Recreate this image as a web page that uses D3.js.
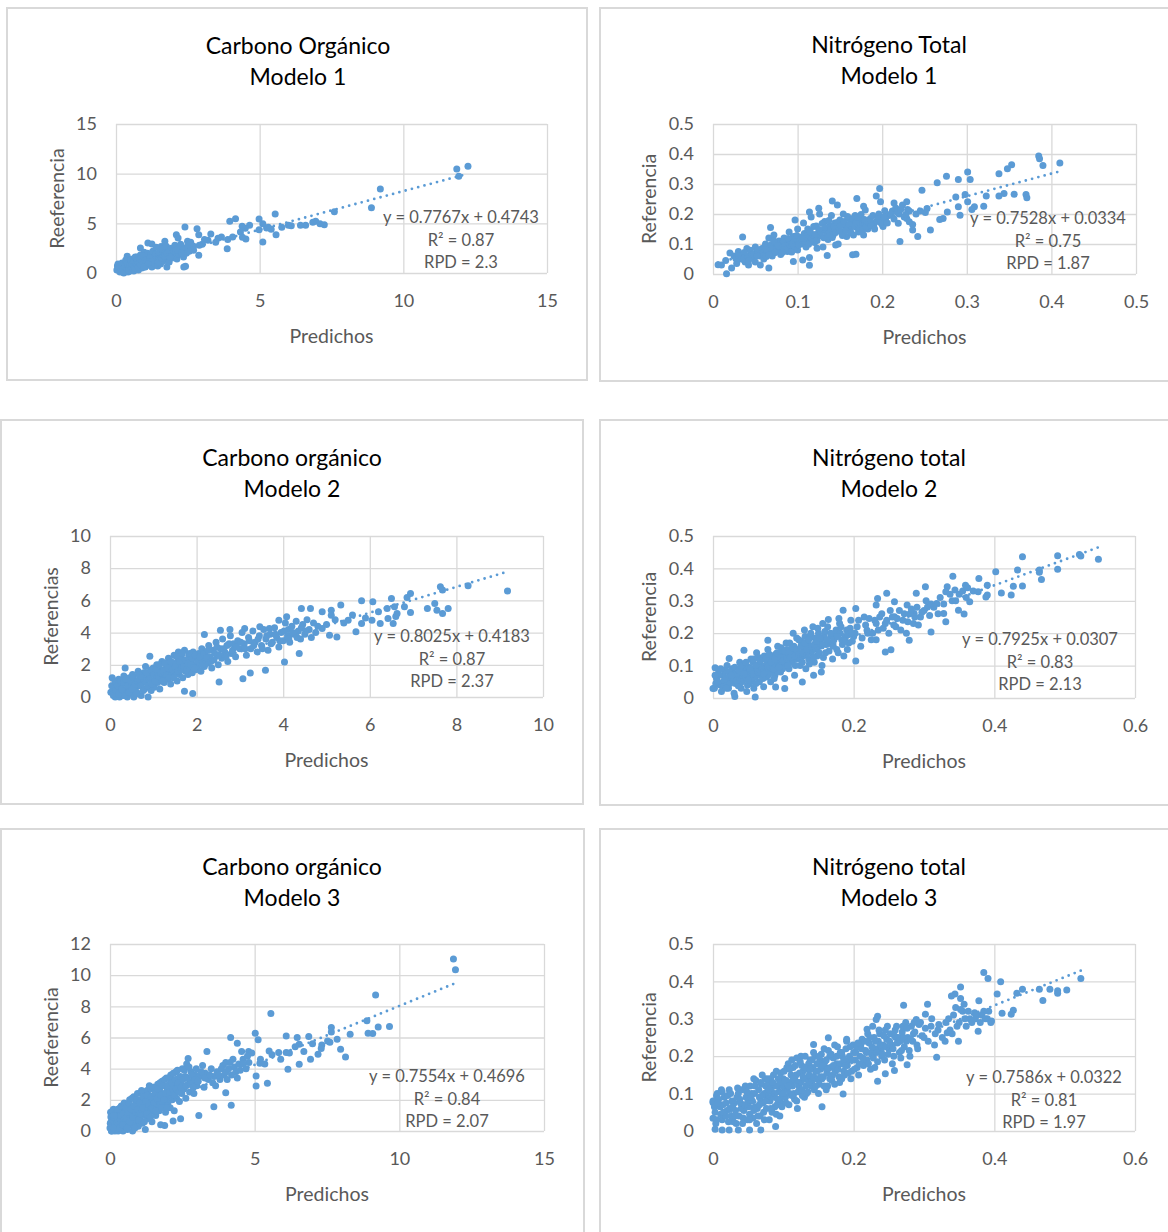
<!DOCTYPE html>
<html>
<head>
<meta charset="utf-8">
<script src="https://cdnjs.cloudflare.com/ajax/libs/d3/7.8.5/d3.min.js"></script>
<style>
  body { margin: 0; background: #fff; }
  svg { display: block; font-family: Lato, "Open Sans", sans-serif; }
</style>
</head>
<body>
<svg id="chart" width="1168" height="1232"></svg>
<script>
///////////////////////////////////////////////////
// Data
///////////////////////////////////////////////////

//  [predichos, referencia]
let co1Points = [
  [12.25,10.74],[11.86,10.47],[11.93,9.73],[9.2,8.46],[8.89,6.58],[7.6,6.17],[7.25,4.85],[7.1,4.95],[6.95,5.2],[6.85,5.1],
  [6.6,4.8],[6.42,4.8],[6.1,4.75],[6.0,4.8],[5.77,4.6],[5.54,5.94],[5.57,3.86],[5.4,4.4],[5.3,4.6],[5.24,4.53],
  [5.11,4.97],[5.11,3.12],[4.98,5.44],[4.98,4.36],[4.65,4.8],[4.5,4.5],[4.39,4.7],[4.33,4.13],[4.52,3.42],[4.4,3.6],
  [4.16,5.47],[3.96,5.2],[4.06,3.62],[3.89,3.36],[3.87,2.45],[3.67,3.62],[3.55,3.5],[3.47,3.09],[3.3,3.93],[3.2,3.3],
  [3.08,3.36],[3.0,2.9],[2.88,3.86],[2.82,4.46],[2.9,2.8],[2.4,4.63],[2.88,1.78],[2.42,0.67],[2.36,0.6],[2.49,3.19],
  [2.6,2.5],[2.7,2.3],[2.1,3.86],[2.16,3.52],[2.23,2.52],[1.97,2.01],[1.77,0.6],[1.7,3.19],[1.57,2.68],[1.25,2.92],
  [1.11,3.02],[0.85,2.52],[0.66,1.51],[0.39,1.68],
  [0.05,0.7],[0.1,0.4],[0.12,0.8],[0.15,0.3],[0.2,0.6],[0.22,0.9],[0.25,0.2],[0.3,0.5],[0.32,1.0],[0.35,0.3],
  [0.4,0.8],[0.42,0.1],[0.45,1.2],[0.48,0.5],[0.5,0.2],[0.08,0.55],[0.18,0.15],[0.28,0.75],
  [0.52,1.0],[0.55,0.4],[0.58,1.4],[0.6,0.7],[0.62,0.2],[0.65,1.1],[0.7,0.5],[0.72,1.6],[0.75,0.9],[0.78,0.3],
  [0.8,1.3],[0.82,0.7],[0.85,1.8],[0.88,1.1],[0.9,0.5],[0.92,1.5],[0.95,0.9],[0.98,2.1],
  [1.0,1.2],[1.02,0.6],[1.05,1.6],[1.08,1.0],[1.1,2.0],[1.12,1.4],[1.15,0.8],[1.2,1.8],[1.22,1.2],[1.25,0.6],
  [1.28,2.2],[1.3,1.5],[1.35,1.0],[1.38,1.9],[1.4,2.6],[1.42,1.3],[1.45,0.7],[1.48,1.7],
  [1.5,2.1],[1.52,1.4],[1.55,0.9],[1.6,1.8],[1.62,2.4],[1.65,1.2],[1.7,2.0],[1.72,1.5],[1.75,2.7],[1.8,1.7],
  [1.82,2.2],[1.85,1.1],[1.9,1.9],[1.92,2.5],[1.95,1.5],[2.0,2.2],
  [2.02,1.7],[2.05,2.8],[2.1,2.0],[2.12,1.4],[2.15,2.4],[2.2,1.9],[2.25,2.9],[2.3,2.2],[2.35,1.6],[2.4,2.5],
  [2.45,2.0],[2.5,2.8],[2.55,2.2],[2.6,3.1],[2.7,2.7],
  [0.03,0.3],[0.07,0.9],[0.11,0.6],[0.14,0.1],[0.17,0.5],[0.21,1.0],[0.24,0.4],[0.27,0.0],[0.31,0.7],[0.34,1.3],
  [0.37,0.5],[0.41,0.9],[0.44,0.3],[0.47,0.8],[0.51,1.3],[0.54,0.6],[0.57,0.9],[0.61,1.2],[0.64,0.5],[0.67,1.6],
  [0.71,0.9],[0.74,1.3],[0.77,0.6],[0.81,1.0],[0.84,1.4],[0.87,0.8],[0.91,1.2],[0.94,1.7],[0.97,0.6],[1.03,1.3],
  [1.13,1.0],[1.18,1.5],[1.33,1.3],[1.47,1.1],[1.58,1.5],[1.68,1.7],[1.78,2.0],[1.88,1.6],[2.08,2.3],[2.28,2.0]
];

let nt1Points = [
  [0.385,0.393],[0.386,0.384],[0.39,0.362],[0.41,0.37],[0.353,0.364],[0.348,0.351],[0.338,0.334],[0.301,0.34],[0.304,0.315],[0.29,0.315],
  [0.276,0.326],[0.265,0.304],[0.247,0.279],[0.37,0.265],[0.371,0.254],[0.356,0.266],[0.344,0.268],[0.338,0.26],[0.323,0.26],[0.32,0.226],
  [0.309,0.224],[0.306,0.215],[0.301,0.241],[0.298,0.265],[0.287,0.257],[0.29,0.224],[0.292,0.196],[0.277,0.207],[0.272,0.185],[0.268,0.182],
  [0.257,0.147],[0.253,0.218],[0.251,0.205],[0.242,0.125],[0.236,0.147],[0.229,0.241],[0.23,0.215],[0.229,0.185],[0.232,0.174],[0.221,0.108],
  [0.219,0.169],[0.214,0.237],[0.197,0.285],[0.193,0.26],[0.198,0.241],[0.203,0.211],[0.201,0.158],[0.188,0.169],[0.18,0.213],[0.17,0.252],
  [0.178,0.226],[0.169,0.066],[0.165,0.064],[0.147,0.23],[0.141,0.243],[0.125,0.219],[0.114,0.207],[0.135,0.062],[0.114,0.029],[0.106,0.047],
  [0.095,0.042],[0.114,0.055],[0.097,0.18],[0.066,0.02],[0.016,0.001],[0.006,0.031],[0.035,0.123],[0.068,0.155],[0.145,0.097],[0.123,0.086],
  [0.01,0.03],[0.015,0.045],[0.02,0.07],[0.022,0.02],[0.025,0.06],[0.028,0.035],[0.03,0.075],[0.032,0.05],[0.035,0.065],[0.038,0.04],
  [0.04,0.085],[0.042,0.03],[0.045,0.07],[0.048,0.055],[0.05,0.09],[0.05,0.04],
  [0.052,0.075],[0.055,0.06],[0.056,0.03],[0.058,0.085],[0.06,0.05],[0.062,0.1],[0.064,0.07],[0.066,0.12],[0.068,0.085],[0.07,0.06],
  [0.072,0.13],[0.074,0.095],[0.075,0.075],[0.078,0.11],[0.08,0.065],[0.082,0.09],[0.084,0.12],[0.086,0.1],[0.088,0.075],[0.09,0.14],
  [0.092,0.11],[0.094,0.085],[0.095,0.125],[0.098,0.1],[0.1,0.15],[0.1,0.08],
  [0.102,0.12],[0.105,0.1],[0.107,0.17],[0.108,0.135],[0.11,0.09],[0.112,0.15],[0.114,0.115],[0.116,0.19],[0.118,0.13],[0.12,0.105],
  [0.122,0.16],[0.124,0.125],[0.126,0.2],[0.128,0.145],[0.13,0.09],[0.132,0.175],[0.134,0.14],[0.136,0.115],[0.138,0.16],[0.14,0.195],
  [0.142,0.13],[0.144,0.17],[0.146,0.15],[0.148,0.1],[0.15,0.18],
  [0.152,0.14],[0.154,0.2],[0.156,0.16],[0.158,0.125],[0.16,0.185],[0.162,0.15],[0.164,0.17],[0.166,0.13],[0.168,0.195],[0.17,0.155],
  [0.172,0.14],[0.174,0.18],[0.176,0.165],[0.178,0.13],[0.18,0.17],[0.183,0.15],[0.186,0.185],[0.19,0.16],[0.193,0.175],[0.196,0.2],
  [0.2,0.165],[0.204,0.18],[0.208,0.195],
  [0.212,0.21],[0.216,0.22],[0.22,0.2],[0.224,0.23],[0.226,0.19],[0.232,0.21],[0.236,0.165],[0.24,0.2],[0.245,0.21],
  [0.027,0.052],[0.031,0.062],[0.036,0.048],[0.041,0.058],[0.044,0.079],[0.047,0.066],[0.053,0.081],[0.057,0.068],[0.059,0.072],[0.061,0.089],
  [0.063,0.058],[0.067,0.077],[0.069,0.098],[0.071,0.085],[0.073,0.071],[0.076,0.102],[0.079,0.088],[0.081,0.079],[0.083,0.105],[0.085,0.093],
  [0.087,0.083],[0.089,0.118],[0.091,0.097],[0.093,0.073],[0.096,0.108],[0.097,0.092],[0.099,0.128],[0.101,0.097],[0.103,0.113],[0.106,0.125],
  [0.109,0.108],[0.111,0.128],[0.113,0.099],[0.115,0.141],[0.117,0.118],[0.119,0.158],[0.121,0.132],[0.123,0.112],[0.125,0.148],[0.127,0.128],
  [0.129,0.168],[0.131,0.121],[0.133,0.155],[0.135,0.133],[0.137,0.178],[0.139,0.148],[0.141,0.122],[0.143,0.158],[0.145,0.138],[0.147,0.172],
  [0.149,0.145],[0.151,0.162],[0.153,0.128],[0.155,0.175],[0.157,0.145],[0.159,0.192],[0.161,0.165],[0.163,0.138],[0.165,0.185],[0.167,0.158],
  [0.169,0.172],[0.171,0.188],[0.173,0.152],[0.175,0.198],[0.177,0.148],[0.179,0.182],[0.181,0.158],[0.184,0.172],[0.187,0.162],[0.189,0.195],
  [0.191,0.15],[0.195,0.185],[0.198,0.172],[0.202,0.19],[0.206,0.17],[0.21,0.2],[0.214,0.183],[0.218,0.205],[0.222,0.215],[0.228,0.198],
  [0.082,0.072],[0.072,0.11],[0.062,0.082],[0.052,0.062],[0.042,0.044],[0.037,0.072],[0.066,0.064],[0.077,0.094],[0.094,0.1],[0.107,0.118]
];

let co2Points = [
  [9.18,6.58],[8.27,6.91],[7.63,6.85],[7.68,6.64],[7.81,5.5],[7.68,5.19],[7.55,5.39],[7.5,5.81],[7.33,5.5],[6.94,5.25],
  [6.94,6.43],[6.86,6.18],[6.63,5.19],[6.57,5.6],[6.5,6.12],[6.54,4.56],[6.42,4.88],[6.24,4.56],[6.07,5.91],[6.05,4.77],
  [5.81,5.98],[5.81,4.56],[5.68,4.05],[5.5,4.77],[5.33,5.71],[5.24,3.73],[5.11,5.39],[5.11,5.08],[5.07,3.84],[4.9,5.29],
  [4.9,4.25],[4.63,5.5],[4.42,5.5],[4.37,2.7],[4.03,2.18],[3.59,1.66],[3.07,1.14],[3.24,1.49],[2.52,0.93],[1.91,0.21],
  [1.72,0.35],[2.18,3.88],[2.55,4.15],[2.77,4.19],[3.11,4.25],[3.46,4.36],[3.68,4.25],[3.9,4.77],[4.08,4.98],[0.92,2.53],
  [0.35,1.8],
  [0.02,0.3],[0.05,1.2],[0.08,0.1],[0.1,0.6],[0.12,0.0],[0.15,0.9],[0.18,0.3],[0.2,1.1],[0.22,0.0],[0.25,0.5],
  [0.28,0.8],[0.3,0.1],[0.32,1.3],[0.35,0.4],[0.38,0.9],[0.4,0.0],[0.42,0.6],[0.45,1.2],[0.48,0.2],[0.5,0.8],
  [0.52,1.4],[0.55,0.0],[0.57,0.5],[0.6,1.0],[0.62,0.3],[0.65,1.6],[0.68,0.7],[0.7,1.2],[0.72,0.1],[0.75,0.9],
  [0.78,1.5],[0.8,0.5],[0.82,1.9],[0.85,1.1],[0.88,0.0],[0.9,0.7],[0.92,1.4],[0.95,0.4],[0.98,1.0],[1.0,1.8],
  [1.02,0.6],[1.05,1.3],[1.08,2.0],[1.1,0.9],[1.12,1.6],[1.15,0.5],[1.18,1.2],[1.2,2.2],[1.22,1.7],[1.25,0.9],
  [1.28,1.4],[1.3,2.0],[1.32,1.1],[1.35,2.4],[1.38,1.6],[1.4,0.8],[1.42,1.9],[1.45,1.3],[1.48,2.6],[1.5,1.6],
  [1.52,2.1],[1.55,1.0],[1.58,2.8],[1.6,1.4],[1.62,1.9],[1.65,2.4],[1.68,1.2],[1.7,2.0],[1.72,2.9],[1.75,1.6],
  [1.78,2.2],[1.8,1.4],[1.82,2.6],[1.85,1.8],[1.88,2.3],[1.9,1.5],[1.92,2.8],[1.95,2.0],[1.98,1.7],[2.0,2.4],
  [2.02,1.9],[2.05,2.7],[2.08,2.2],[2.1,1.6],[2.12,3.0],[2.15,2.4],[2.18,1.9],[2.2,2.8],[2.25,2.1],[2.28,3.2],
  [2.3,2.5],[2.35,1.8],[2.38,2.9],[2.4,2.3],[2.45,3.4],[2.48,2.6],[2.5,2.0],
  [2.55,3.0],[2.58,2.4],[2.6,3.6],[2.65,2.8],[2.7,3.2],[2.72,2.2],[2.78,3.8],[2.8,2.7],[2.85,3.3],[2.9,2.5],
  [2.95,3.5],[3.0,3.0],
  [3.05,4.0],[3.1,3.3],[3.15,2.6],[3.2,3.7],[3.25,3.0],[3.3,4.1],[3.35,3.4],[3.4,2.8],[3.45,3.8],[3.5,3.2],
  [3.55,4.2],[3.6,3.6],[3.65,2.9],[3.7,3.9],[3.75,3.4],[3.8,4.3],[3.85,3.7],[3.9,3.1],[3.95,4.0],[4.0,3.5],
  [4.05,4.6],[4.1,3.8],[4.12,4.2],[4.15,3.4],[4.2,4.4],[4.25,3.9],[4.3,4.7],[4.35,4.1],[4.4,3.6],[4.45,4.5],
  [4.5,3.9],[4.55,4.8],[4.6,4.2],[4.65,3.7],[4.7,4.6],[4.75,4.0],[4.8,4.4],
  [5.0,4.5],[5.2,4.8],[5.4,4.6],[5.6,5.1],[5.9,4.9],[6.2,5.3],[6.4,5.5],[6.6,5.0],[6.8,5.6],
  [0.04,0.7],[0.07,0.2],[0.11,1.0],[0.14,0.4],[0.17,0.7],[0.21,0.2],[0.24,1.0],[0.27,0.5],[0.31,0.9],[0.34,0.1],
  [0.37,1.1],[0.41,0.7],[0.44,0.3],[0.47,1.0],[0.51,0.5],[0.54,1.2],[0.58,0.8],[0.61,0.2],[0.64,1.0],[0.67,1.4],
  [0.71,0.7],[0.74,1.2],[0.77,0.4],[0.81,1.0],[0.84,1.5],[0.87,0.7],[0.91,1.1],[0.94,1.7],[0.97,0.8],[1.01,1.4],
  [1.04,1.0],[1.07,1.7],[1.11,1.3],[1.14,2.0],[1.17,1.5],[1.21,1.0],[1.24,1.6],[1.27,2.1],[1.31,1.4],[1.34,1.8],
  [1.37,1.2],[1.41,2.2],[1.44,1.7],[1.47,1.2],[1.51,1.9],[1.54,2.5],[1.57,1.6],[1.61,2.2],[1.64,1.7],[1.67,2.7],
  [1.71,1.9],[1.74,2.3],[1.77,1.7],[1.81,2.1],[1.84,2.7],[1.87,2.0],[1.91,2.4],[1.94,1.8],[1.97,2.6],[2.03,2.2],
  [2.07,2.5],[2.13,2.0],[2.17,2.7],[2.23,2.4],[2.27,2.9],[2.33,2.2],[2.42,2.7],[2.47,3.1],[2.53,2.6],[2.62,3.0],
  [2.68,2.5],[2.75,3.3],[2.83,2.9],[2.92,3.1],[3.02,3.4],[3.12,3.0],[3.22,3.5],[3.32,3.2],[3.42,3.6],[3.52,3.0],
  [3.62,3.8],[3.72,3.3],[3.82,3.9],[3.92,3.5],[4.02,4.1],[4.13,3.6],[4.22,4.0],[4.32,3.7],[4.42,4.3],[4.52,4.1]
];

let nt2Points = [
  [0.548,0.428],[0.523,0.438],[0.521,0.443],[0.49,0.439],[0.49,0.397],[0.467,0.366],[0.464,0.395],[0.464,0.388],[0.44,0.436],[0.433,0.395],
  [0.44,0.346],[0.427,0.345],[0.424,0.318],[0.41,0.324],[0.402,0.39],[0.39,0.318],[0.388,0.312],[0.39,0.348],[0.378,0.369],[0.377,0.328],
  [0.365,0.297],[0.357,0.259],[0.349,0.271],[0.359,0.348],[0.341,0.376],[0.344,0.333],[0.333,0.343],[0.331,0.328],[0.331,0.235],[0.328,0.261],
  [0.318,0.292],[0.31,0.204],[0.302,0.343],[0.305,0.281],[0.289,0.323],[0.286,0.261],[0.279,0.178],[0.276,0.287],[0.258,0.251],[0.258,0.297],
  [0.247,0.323],[0.245,0.142],[0.253,0.149],[0.234,0.307],[0.232,0.287],[0.232,0.18],[0.219,0.209],[0.203,0.276],[0.203,0.114],[0.185,0.271],
  [0.179,0.245],[0.164,0.242],[0.156,0.23],[0.154,0.08],[0.143,0.07],[0.127,0.049],[0.102,0.029],[0.089,0.034],[0.078,0.178],[0.044,0.147],
  [0.023,0.122],[0.003,0.093],[0.0,0.029],[0.06,0.003],[0.031,0.005],
  [0.002,0.03],[0.005,0.06],[0.008,0.085],[0.01,0.04],[0.012,0.02],[0.015,0.07],[0.018,0.05],[0.02,0.1],[0.022,0.03],[0.025,0.06],
  [0.028,0.08],[0.03,0.015],[0.032,0.045],[0.035,0.07],[0.038,0.11],[0.04,0.03],[0.042,0.06],[0.045,0.09],[0.048,0.02],[0.05,0.075],
  [0.052,0.045],[0.054,0.12],[0.056,0.09],[0.058,0.03],[0.06,0.065],[0.062,0.14],[0.064,0.1],[0.066,0.05],[0.068,0.08],[0.07,0.12],
  [0.072,0.035],[0.074,0.095],[0.076,0.065],[0.078,0.15],[0.08,0.11],[0.082,0.05],[0.084,0.085],[0.086,0.13],[0.088,0.07],[0.09,0.1],
  [0.092,0.16],[0.094,0.12],[0.096,0.08],[0.098,0.14],[0.1,0.105],
  [0.102,0.06],[0.104,0.17],[0.106,0.13],[0.108,0.09],[0.11,0.15],[0.112,0.11],[0.114,0.2],[0.116,0.07],[0.118,0.14],[0.12,0.12],
  [0.122,0.18],[0.124,0.1],[0.126,0.16],[0.128,0.13],[0.13,0.21],[0.132,0.09],[0.134,0.15],[0.136,0.12],[0.138,0.19],[0.14,0.14],
  [0.142,0.22],[0.144,0.11],[0.146,0.17],[0.148,0.13],[0.15,0.2],
  [0.152,0.16],[0.155,0.1],[0.158,0.19],[0.16,0.14],[0.163,0.22],[0.166,0.17],[0.17,0.12],[0.173,0.2],[0.176,0.15],[0.18,0.23],
  [0.183,0.18],[0.186,0.13],[0.19,0.21],[0.193,0.17],[0.196,0.24],[0.2,0.19],
  [0.205,0.22],[0.21,0.16],[0.215,0.25],[0.22,0.2],[0.225,0.18],[0.23,0.24],[0.235,0.21],[0.24,0.26],[0.245,0.23],[0.25,0.2],
  [0.255,0.25],[0.26,0.22],[0.265,0.27],[0.27,0.24],[0.275,0.2],[0.28,0.26],[0.285,0.23],[0.29,0.28],[0.295,0.25],[0.3,0.27],
  [0.31,0.29],[0.32,0.26],[0.34,0.3],[0.35,0.32],[0.36,0.31],
  [0.004,0.045],[0.009,0.07],[0.014,0.035],[0.017,0.085],[0.021,0.062],[0.024,0.045],[0.027,0.09],[0.029,0.055],[0.033,0.072],[0.036,0.038],
  [0.039,0.085],[0.041,0.05],[0.043,0.105],[0.046,0.065],[0.049,0.04],[0.051,0.095],[0.053,0.07],[0.055,0.055],[0.057,0.11],[0.059,0.08],
  [0.061,0.045],[0.063,0.092],[0.065,0.125],[0.067,0.07],[0.069,0.1],[0.071,0.06],[0.073,0.13],[0.075,0.085],[0.077,0.105],[0.079,0.072],
  [0.081,0.125],[0.083,0.095],[0.085,0.11],[0.087,0.06],[0.089,0.135],[0.091,0.085],[0.093,0.115],[0.095,0.1],[0.097,0.155],[0.099,0.09],
  [0.101,0.13],[0.103,0.115],[0.105,0.15],[0.107,0.1],[0.109,0.17],[0.111,0.135],[0.113,0.12],[0.115,0.16],[0.117,0.1],[0.119,0.185],
  [0.121,0.14],[0.123,0.125],[0.125,0.175],[0.127,0.11],[0.129,0.15],[0.131,0.19],[0.133,0.135],[0.135,0.165],[0.137,0.105],[0.139,0.2],
  [0.141,0.155],[0.143,0.125],[0.145,0.185],[0.147,0.15],[0.149,0.215],[0.151,0.14],[0.153,0.18],[0.157,0.125],[0.159,0.205],[0.161,0.165],
  [0.165,0.145],[0.168,0.19],[0.171,0.16],[0.175,0.21],[0.178,0.14],[0.181,0.2],[0.184,0.165],[0.188,0.19],[0.191,0.15],[0.195,0.215],
  [0.198,0.175],
  [0.202,0.2],[0.207,0.24],[0.212,0.185],[0.217,0.225],[0.222,0.245],[0.227,0.2],[0.232,0.23],[0.237,0.25],[0.242,0.215],[0.247,0.24],
  [0.252,0.27],[0.257,0.225],[0.262,0.245],[0.267,0.21],[0.272,0.26],[0.277,0.235],[0.282,0.275],[0.287,0.25],[0.292,0.225],[0.297,0.265],
  [0.303,0.3],[0.308,0.255],[0.314,0.28],[0.323,0.31],[0.328,0.29],[0.337,0.32],[0.345,0.3],[0.355,0.33],[0.362,0.34],[0.37,0.33],
  [0.003,0.07],[0.007,0.05],[0.011,0.09],[0.016,0.055],[0.019,0.03],[0.023,0.08],[0.026,0.07],[0.031,0.095],[0.034,0.055],[0.037,0.085],
  [0.04,0.1],[0.044,0.075],[0.047,0.11],[0.05,0.055],[0.053,0.09],[0.056,0.075],[0.058,0.12],[0.061,0.1],[0.064,0.08],[0.067,0.115],
  [0.07,0.09],[0.072,0.075],[0.075,0.12],[0.078,0.095],[0.08,0.135],[0.083,0.11],[0.086,0.09],[0.088,0.12],[0.091,0.14],[0.094,0.095],
  [0.096,0.125],[0.099,0.115],[0.102,0.145],[0.105,0.12],[0.108,0.14],[0.11,0.125],[0.113,0.155],[0.116,0.13],[0.119,0.15],[0.122,0.135],
  [0.125,0.16],[0.128,0.14],[0.13,0.17],[0.133,0.15],[0.136,0.18],[0.14,0.16],[0.144,0.165],[0.148,0.175],[0.152,0.185],[0.156,0.165],
  [0.162,0.18],[0.167,0.2],[0.172,0.18],[0.177,0.19],[0.182,0.22],[0.187,0.175],[0.192,0.195],[0.197,0.2]
];

let co3Points = [
  [11.87,11.03],[11.94,10.34],[9.18,8.72],[9.66,6.7],[9.27,6.68],[9.08,6.25],[8.92,6.27],[8.88,7.07],[8.3,6.21],[8.14,4.75],
  [7.97,5.25],[7.85,5.89],[7.65,6.36],[7.65,6.64],[7.52,5.78],[7.32,5.52],[7.19,4.93],[6.87,6.06],[6.93,4.6],[6.54,5.57],
  [6.54,4.28],[6.47,6.0],[6.09,6.1],[6.15,3.96],[6.09,5.03],[5.83,5.03],[5.56,7.54],[5.5,5.14],[5.44,3.06],[5.18,4.35],
  [5.12,5.85],[5.02,6.27],[5.05,2.89],[5.05,3.53],[4.79,5.1],[4.4,5.63],[4.17,6.0],[4.19,1.65],[4.0,2.46],[3.59,1.56],
  [3.07,1.0],[3.35,5.1],[2.7,4.65],[2.44,0.79],[1.89,0.36],[2.18,0.64],
  [0.0,0.2],[0.02,1.2],[0.04,0.6],[0.06,0.0],[0.08,1.0],[0.1,0.4],[0.12,1.4],[0.15,0.1],[0.18,0.8],[0.2,1.3],
  [0.22,0.3],[0.25,0.9],[0.28,0.0],[0.3,1.1],[0.32,0.5],[0.35,1.5],[0.38,0.2],[0.4,0.8],[0.42,1.2],[0.45,0.0],
  [0.48,0.6],[0.5,1.4],
  [0.52,0.3],[0.55,1.0],[0.58,1.7],[0.6,0.1],[0.62,0.7],[0.65,1.3],[0.68,2.0],[0.7,0.4],[0.72,1.0],[0.75,1.6],
  [0.78,0.0],[0.8,0.8],[0.82,2.2],[0.85,1.3],[0.88,0.5],[0.9,1.8],[0.92,1.0],[0.95,2.4],[0.98,0.3],[1.0,1.5],
  [1.02,0.8],[1.05,2.0],[1.08,1.2],[1.1,2.4],[1.12,0.5],[1.15,1.7],[1.18,1.0],[1.2,2.2],[1.22,0.1],[1.25,1.4],
  [1.28,2.6],[1.3,1.9],[1.32,0.8],[1.35,2.3],[1.38,1.2],[1.4,2.7],[1.42,1.7],[1.45,0.6],[1.48,2.1],[1.5,1.4],
  [1.52,2.8],[1.55,1.9],[1.58,1.0],[1.6,2.5],[1.62,1.6],[1.65,3.0],[1.68,2.2],[1.7,1.3],[1.72,2.7],[1.75,0.4],
  [1.78,1.9],[1.8,3.2],[1.82,2.4],[1.85,1.6],[1.88,2.9],[1.9,2.1],[1.92,1.2],[1.95,3.4],[1.98,2.6],[2.0,1.8],
  [2.02,2.3],[2.05,3.0],[2.08,1.5],[2.1,3.6],[2.12,2.6],[2.15,2.0],[2.18,3.2],[2.2,2.4],[2.22,1.3],[2.25,2.9],
  [2.28,3.8],[2.3,2.1],[2.35,2.7],[2.38,3.4],[2.4,1.9],[2.45,3.0],[2.48,2.4],[2.5,4.0],
  [2.55,2.7],[2.6,3.5],[2.62,2.1],[2.65,4.3],[2.7,3.0],[2.75,2.5],[2.8,3.8],[2.85,3.2],[2.9,2.4],[2.95,3.6],
  [3.0,2.9],
  [3.1,3.5],[3.2,4.2],[3.25,2.8],[3.3,3.7],[3.4,3.3],[3.5,4.0],[3.6,3.5],[3.65,2.9],[3.7,3.8],[3.8,3.3],
  [3.9,4.2],[3.95,3.6],[4.0,4.4],
  [4.05,3.3],[4.1,4.0],[4.2,3.6],[4.25,4.6],[4.3,4.1],[4.4,3.4],[4.45,4.3],[4.5,3.9],[4.55,5.1],[4.6,4.6],
  [4.7,4.0],[4.8,4.4],[4.9,5.0],
  [5.2,4.6],[5.35,4.3],[5.6,4.9],[5.9,4.6],[6.2,5.0],[6.4,5.4],[6.7,5.1],[7.0,5.6],[7.3,5.3],[7.6,5.7],
  [0.03,0.9],[0.07,0.3],[0.09,1.3],[0.13,0.7],[0.17,0.0],[0.19,1.1],[0.23,0.5],[0.27,1.4],[0.29,0.8],[0.33,0.2],
  [0.36,1.0],[0.39,1.6],[0.43,0.4],[0.46,1.1],[0.49,1.8],[0.53,0.8],[0.56,1.5],[0.59,0.2],[0.63,1.1],[0.66,1.8],
  [0.69,0.6],[0.73,1.4],[0.76,2.1],[0.79,0.9],[0.83,1.6],[0.86,0.2],[0.89,1.2],[0.93,2.0],[0.96,1.4],[0.99,0.7],
  [1.03,1.8],[1.06,1.1],[1.09,2.6],[1.13,1.5],[1.16,2.2],[1.19,0.6],[1.23,1.9],[1.26,1.1],[1.29,2.3],[1.33,1.6],
  [1.36,2.9],[1.39,0.9],[1.43,2.2],[1.46,1.5],[1.49,2.8],[1.53,1.8],[1.56,2.4],[1.59,1.3],[1.63,2.1],[1.66,2.7],
  [1.69,1.7],[1.73,3.1],[1.76,2.3],[1.79,1.5],[1.83,2.9],[1.86,2.0],[1.89,3.3],[1.93,2.4],[1.96,1.5],[1.99,2.9],
  [2.03,3.4],[2.06,2.5],[2.09,2.0],[2.13,3.1],[2.16,2.7],[2.19,3.7],[2.23,2.3],[2.26,3.3],[2.29,2.7],[2.33,3.9],
  [2.36,3.1],[2.39,2.5],[2.43,3.5],[2.46,2.8],[2.52,3.3],[2.57,3.9],[2.63,2.9],[2.68,3.4],[2.73,4.1],[2.78,3.0],
  [2.83,3.6],[2.88,2.8],[2.93,3.3],[2.98,4.0],[3.05,3.2],[3.15,3.8],[3.28,3.4],[3.45,3.6],[3.55,3.1],[3.75,3.6],
  [3.85,4.0],[4.02,3.8],[4.15,4.4],[4.35,3.8],[4.6,4.3],[4.75,4.8],[0.01,0.5],[0.05,0.0],[0.11,0.2],[0.14,1.0]
];

let nt3Points = [
  [0.523,0.408],[0.503,0.377],[0.49,0.375],[0.49,0.368],[0.479,0.379],[0.469,0.349],[0.464,0.379],[0.44,0.379],[0.432,0.368],[0.427,0.323],
  [0.424,0.312],[0.409,0.399],[0.411,0.315],[0.404,0.366],[0.396,0.294],[0.391,0.408],[0.385,0.424],[0.378,0.348],[0.377,0.267],[0.372,0.316],
  [0.352,0.385],[0.352,0.354],[0.344,0.366],[0.339,0.361],[0.357,0.339],[0.349,0.24],[0.333,0.263],[0.318,0.197],[0.305,0.339],[0.302,0.312],
  [0.289,0.298],[0.276,0.177],[0.271,0.336],[0.258,0.162],[0.245,0.153],[0.234,0.133],[0.234,0.307],[0.232,0.298],[0.227,0.28],[0.219,0.272],
  [0.19,0.245],[0.185,0.099],[0.164,0.249],[0.143,0.231],[0.155,0.065],[0.089,0.012],[0.068,0.003],[0.052,0.003],[0.036,0.003],[0.023,0.003],
  [0.013,0.003],[0.003,0.005],[0.0,0.034],[0.0,0.076],[0.005,0.094],[0.013,0.104],
  [0.0,0.08],[0.003,0.05],[0.006,0.1],[0.01,0.065],[0.013,0.03],[0.016,0.09],[0.02,0.055],[0.023,0.11],[0.026,0.04],[0.03,0.075],
  [0.033,0.02],[0.036,0.1],[0.04,0.06],[0.043,0.035],[0.046,0.12],[0.05,0.08],
  [0.052,0.045],[0.055,0.1],[0.058,0.14],[0.06,0.065],[0.062,0.02],[0.065,0.11],[0.068,0.08],[0.07,0.15],[0.072,0.05],[0.075,0.12],
  [0.078,0.09],[0.08,0.03],[0.082,0.14],[0.085,0.1],[0.088,0.065],[0.09,0.16],[0.092,0.12],[0.095,0.04],[0.098,0.09],[0.1,0.14],
  [0.102,0.11],[0.105,0.17],[0.108,0.07],[0.11,0.13],[0.112,0.19],[0.115,0.1],[0.118,0.15],[0.12,0.06],[0.122,0.12],[0.125,0.2],
  [0.128,0.16],[0.13,0.09],[0.133,0.14],[0.136,0.18],[0.14,0.12],[0.143,0.21],[0.146,0.16],[0.15,0.1],
  [0.152,0.19],[0.155,0.14],[0.158,0.22],[0.16,0.17],[0.163,0.12],[0.166,0.2],[0.17,0.15],[0.173,0.23],[0.176,0.18],[0.18,0.13],
  [0.183,0.21],[0.186,0.16],[0.19,0.24],[0.193,0.19],[0.196,0.14],[0.2,0.21],
  [0.205,0.17],[0.21,0.23],[0.215,0.19],[0.22,0.26],[0.225,0.21],[0.23,0.17],[0.235,0.24],[0.24,0.2],[0.245,0.27],[0.25,0.22],
  [0.255,0.18],[0.26,0.25],[0.265,0.21],[0.27,0.28],[0.275,0.24],[0.28,0.2],[0.285,0.26],[0.29,0.23],[0.295,0.29],[0.3,0.25],
  [0.31,0.28],[0.315,0.23],[0.32,0.27],[0.33,0.24],[0.335,0.3],[0.34,0.26],[0.345,0.33],[0.35,0.29],[0.355,0.32],[0.36,0.28],
  [0.365,0.3],[0.375,0.31],[0.38,0.29],[0.385,0.32],[0.39,0.3],[0.395,0.29],
  [0.002,0.065],[0.005,0.03],[0.008,0.085],[0.011,0.045],[0.014,0.07],[0.018,0.04],[0.021,0.095],[0.024,0.06],[0.027,0.08],[0.029,0.025],
  [0.032,0.055],[0.034,0.09],[0.037,0.04],[0.039,0.075],[0.041,0.11],[0.044,0.055],[0.047,0.09],[0.049,0.03],[0.051,0.065],[0.053,0.12],
  [0.056,0.08],[0.057,0.035],[0.059,0.1],[0.061,0.135],[0.063,0.06],[0.066,0.09],[0.067,0.04],[0.069,0.125],[0.071,0.075],[0.073,0.1],
  [0.074,0.14],[0.076,0.06],[0.077,0.105],[0.079,0.13],[0.081,0.08],[0.083,0.115],[0.084,0.05],[0.086,0.15],[0.087,0.09],[0.089,0.12],
  [0.091,0.07],[0.093,0.14],[0.094,0.105],[0.096,0.155],[0.097,0.075],[0.099,0.12],
  [0.101,0.16],[0.103,0.09],[0.104,0.135],[0.106,0.115],[0.107,0.18],[0.109,0.1],[0.111,0.15],[0.113,0.12],[0.114,0.17],[0.116,0.085],
  [0.117,0.135],[0.119,0.195],[0.121,0.105],[0.123,0.155],[0.124,0.13],[0.126,0.175],[0.127,0.095],[0.129,0.14],[0.131,0.2],[0.132,0.12],
  [0.134,0.165],[0.135,0.105],[0.137,0.15],[0.138,0.19],[0.141,0.135],[0.142,0.17],[0.144,0.11],[0.145,0.2],[0.147,0.14],[0.148,0.18],
  [0.151,0.125],[0.153,0.165],[0.154,0.205],[0.157,0.145],[0.159,0.185],[0.161,0.11],[0.162,0.155],[0.164,0.215],[0.167,0.17],[0.169,0.135],
  [0.171,0.195],[0.174,0.16],[0.177,0.225],[0.179,0.145],[0.181,0.18],[0.184,0.2],[0.187,0.15],[0.189,0.22],[0.191,0.175],[0.194,0.2],
  [0.197,0.16],[0.199,0.23],
  [0.202,0.19],[0.204,0.225],[0.207,0.15],[0.209,0.2],[0.212,0.245],[0.214,0.175],[0.217,0.215],[0.219,0.19],[0.222,0.235],[0.224,0.165],
  [0.227,0.2],[0.229,0.25],[0.232,0.22],[0.234,0.185],[0.237,0.26],[0.239,0.215],[0.242,0.23],[0.244,0.19],[0.247,0.245],[0.249,0.205],
  [0.252,0.26],[0.254,0.23],[0.257,0.2],[0.259,0.27],[0.262,0.235],[0.264,0.25],[0.267,0.195],[0.269,0.265],[0.272,0.225],[0.274,0.29],
  [0.277,0.25],[0.279,0.215],[0.282,0.28],[0.284,0.24],[0.287,0.265],[0.291,0.22],[0.293,0.285],[0.297,0.255],[0.302,0.275],[0.306,0.24],
  [0.311,0.3],[0.316,0.26],[0.321,0.285],[0.326,0.25],[0.331,0.29],[0.337,0.27],[0.342,0.31],[0.347,0.28],[0.352,0.325],[0.358,0.3],
  [0.363,0.32],[0.368,0.29],[0.373,0.3],[0.382,0.31],[0.387,0.3],[0.392,0.32],
  [0.004,0.02],[0.007,0.075],[0.012,0.11],[0.015,0.05],[0.019,0.075],[0.022,0.025],[0.025,0.1],[0.028,0.065],[0.031,0.04],[0.035,0.115],
  [0.038,0.085],[0.042,0.02],[0.045,0.07],[0.048,0.105],[0.052,0.03],[0.054,0.09],[0.058,0.055],[0.06,0.12],[0.064,0.04],[0.066,0.07],
  [0.068,0.13],[0.07,0.095],[0.073,0.03],[0.075,0.08],[0.078,0.14],[0.08,0.11],[0.082,0.06],[0.085,0.13],[0.088,0.1],[0.09,0.045],
  [0.092,0.085],[0.095,0.13],[0.098,0.065],[0.1,0.1],
  [0.102,0.135],[0.104,0.075],[0.107,0.12],[0.109,0.165],[0.112,0.095],[0.114,0.14],[0.117,0.175],[0.119,0.08],[0.121,0.13],[0.124,0.185],
  [0.126,0.11],[0.128,0.145],[0.131,0.17],[0.133,0.1],[0.136,0.13],[0.138,0.165],[0.141,0.19],[0.143,0.145],[0.146,0.12],[0.148,0.16],
  [0.151,0.2],[0.153,0.145],[0.156,0.175],[0.158,0.12],[0.161,0.19],[0.163,0.165],[0.166,0.14],[0.168,0.205],[0.171,0.175],[0.173,0.125],
  [0.176,0.2],[0.178,0.165],[0.181,0.21],[0.183,0.14],[0.186,0.19],[0.188,0.175],[0.192,0.155],[0.195,0.225],[0.198,0.19],
  [0.201,0.165],[0.203,0.21],[0.206,0.235],[0.208,0.18],[0.211,0.22],[0.213,0.195],[0.216,0.24],[0.218,0.21],[0.221,0.18],[0.223,0.25],
  [0.226,0.225],[0.228,0.195],[0.231,0.24],[0.233,0.21],[0.236,0.27],[0.238,0.23],[0.241,0.205],[0.243,0.255],[0.246,0.225],[0.248,0.28],
  [0.251,0.24],[0.256,0.22],[0.258,0.255],[0.261,0.28],[0.266,0.24],[0.268,0.215],[0.271,0.25],[0.276,0.275],[0.281,0.245],[0.286,0.29]
];

//  titles, axis names
let titles = [
  ["Carbono Orgánico", "Modelo 1"], ["Nitrógeno Total", "Modelo 1"],
  ["Carbono orgánico", "Modelo 2"], ["Nitrógeno total", "Modelo 2"],
  ["Carbono orgánico", "Modelo 3"], ["Nitrógeno total", "Modelo 3"]
];
let yNames = ["Reeferencia", "Referencia", "Referencias", "Referencia", "Reeferencia", "Referencia"];

//  linear fits [slope, intercept] + stats shown
let fits = [[0.7767, 0.4743], [0.7528, 0.0334], [0.8025, 0.4183], [0.7925, 0.0307], [0.7554, 0.4696], [0.7586, 0.0322]];
let r2s = ["0.87", "0.75", "0.87", "0.83", "0.84", "0.81"];
let rpds = ["2.3", "1.87", "2.37", "2.13", "2.07", "1.97"];

//  axis ticks
let xTickSets = [[0, 5, 10, 15], [0, 0.1, 0.2, 0.3, 0.4, 0.5], [0, 2, 4, 6, 8, 10], [0, 0.2, 0.4, 0.6], [0, 5, 10, 15], [0, 0.2, 0.4, 0.6]];
let yTickSets = [[0, 5, 10, 15], [0, 0.1, 0.2, 0.3, 0.4, 0.5], [0, 2, 4, 6, 8, 10], [0, 0.1, 0.2, 0.3, 0.4, 0.5], [0, 2, 4, 6, 8, 10, 12], [0, 0.1, 0.2, 0.3, 0.4, 0.5]];

let allPoints = [co1Points, nt1Points, co2Points, nt2Points, co3Points, nt3Points];

///////////////////////////////////////////////////
// Layout
///////////////////////////////////////////////////

//  box: frame; plot: [left, right, top, bottom]
let layout = [
  { box: [7, 8, 580, 372],   plot: [116, 547, 124, 273],   titleX: 298, titleY: 45,  yLabX: 56,  eqX: 461,  eqY: 217 },
  { box: [600, 8, 580, 373], plot: [713, 1136, 124, 274],  titleX: 889, titleY: 44,  yLabX: 648, eqX: 1048, eqY: 218 },
  { box: [1, 420, 582, 384], plot: [110, 543, 536, 697],   titleX: 292, titleY: 457, yLabX: 50,  eqX: 452,  eqY: 636 },
  { box: [600, 420, 580, 385], plot: [713, 1135, 536, 698], titleX: 889, titleY: 457, yLabX: 648, eqX: 1040, eqY: 639 },
  { box: [1, 829, 583, 420], plot: [110, 544, 944, 1131],  titleX: 292, titleY: 866, yLabX: 50,  eqX: 447,  eqY: 1076 },
  { box: [600, 829, 580, 420], plot: [713, 1135, 944, 1131], titleX: 889, titleY: 866, yLabX: 648, eqX: 1044, eqY: 1077 }
];

const BLUE = "#5B9BD5", GRID = "#D9D9D9", LABEL = "#595959";

let svg = d3.select("#chart");

layout.forEach(function(L, i) {
  let g = svg.append("g");
  let xt = xTickSets[i], yt = yTickSets[i];

  let x = d3.scaleLinear().domain([0, xt[xt.length - 1]]).range([L.plot[0], L.plot[1]]);
  let y = d3.scaleLinear().domain([0, yt[yt.length - 1]]).range([L.plot[3], L.plot[2]]);
  let fmt = function(d) { return String(+d.toFixed(2)); };

  //  chart frame
  g.append("rect")
    .attr("x", L.box[0]).attr("y", L.box[1])
    .attr("width", L.box[2]).attr("height", L.box[3])
    .attr("fill", "#fff").attr("stroke", GRID).attr("stroke-width", 2);

  //  title
  g.append("text")
    .attr("x", L.titleX).attr("y", L.titleY)
    .attr("text-anchor", "middle").attr("dominant-baseline", "central")
    .attr("font-size", 23).attr("fill", "#000")
    .selectAll("tspan").data(titles[i]).enter().append("tspan")
    .attr("x", L.titleX).attr("dy", function(d, k) { return k ? 31 : 0; })
    .text(function(d) { return d; });

  //  gridlines
  g.append("g").call(d3.axisLeft(y).tickValues(yt).tickSize(-(L.plot[1] - L.plot[0])).tickFormat(""))
    .attr("transform", "translate(" + L.plot[0] + ",0)")
    .call(function(a) { a.select(".domain").remove(); a.selectAll("line").attr("stroke", GRID).attr("stroke-width", 1.3); });
  g.append("g").call(d3.axisBottom(x).tickValues(xt).tickSize(-(L.plot[3] - L.plot[2])).tickFormat(""))
    .attr("transform", "translate(0," + L.plot[3] + ")")
    .call(function(a) { a.select(".domain").remove(); a.selectAll("line").attr("stroke", GRID).attr("stroke-width", 1.3); });

  //  tick labels
  let yAx = g.append("g").attr("transform", "translate(" + L.plot[0] + ",0)")
    .call(d3.axisLeft(y).tickValues(yt).tickSize(0).tickPadding(19).tickFormat(fmt));
  let xAx = g.append("g").attr("transform", "translate(0," + L.plot[3] + ")")
    .call(d3.axisBottom(x).tickValues(xt).tickSize(0).tickPadding(21).tickFormat(fmt));
  [yAx, xAx].forEach(function(a) {
    a.select(".domain").remove();
    a.selectAll("text").attr("font-size", 18).attr("fill", LABEL).attr("font-family", "Lato, 'Open Sans', sans-serif");
  });

  //  axis titles
  g.append("text")
    .attr("x", (L.plot[0] + L.plot[1]) / 2).attr("y", L.plot[3] + 62)
    .attr("text-anchor", "middle").attr("dominant-baseline", "central")
    .attr("font-size", 19.5).attr("fill", LABEL).text("Predichos");
  g.append("text")
    .attr("transform", "translate(" + L.yLabX + "," + (L.plot[2] + L.plot[3]) / 2 + ") rotate(-90)")
    .attr("text-anchor", "middle").attr("dominant-baseline", "central")
    .attr("font-size", 19.5).attr("fill", LABEL).text(yNames[i]);

  //  points
  g.append("g").selectAll("circle")
    .data(allPoints[i]).enter().append("circle")
    .attr("cx", function(d) { return x(d[0]); })
    .attr("cy", function(d) { return y(d[1]); })
    .attr("r", 3.5)
    .attr("fill", BLUE);

  //  dotted trendline over data range
  let ext = d3.extent(allPoints[i], function(d) { return d[0]; });
  let f = fits[i];
  g.append("line")
    .attr("x1", x(ext[0])).attr("y1", y(f[0] * ext[0] + f[1]))
    .attr("x2", x(ext[1])).attr("y2", y(f[0] * ext[1] + f[1]))
    .attr("stroke", BLUE).attr("stroke-width", 2.8)
    .attr("stroke-linecap", "round").attr("stroke-dasharray", "0 6.5");

  //  equation block
  let eq = ["y = " + f[0] + "x + " + f[1], "R² = " + r2s[i], "RPD = " + rpds[i]];
  g.append("g").selectAll("text").data(eq).enter().append("text")
    .attr("x", L.eqX).attr("y", function(d, k) { return L.eqY + k * 22.5; })
    .attr("text-anchor", "middle").attr("dominant-baseline", "central")
    .attr("font-size", 16.5).attr("fill", LABEL)
    .text(function(d) { return d; });
});
</script>
</body>
</html>
